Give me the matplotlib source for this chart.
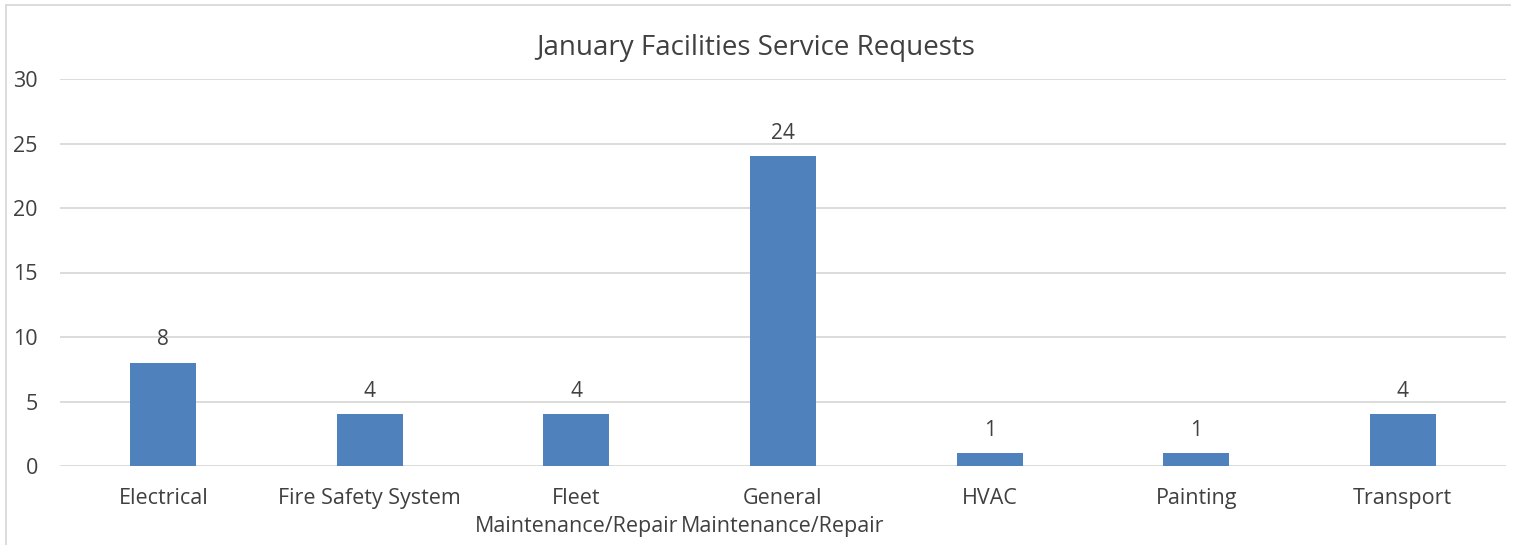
import numpy as np
import matplotlib.pyplot as plt
from matplotlib.lines import Line2D

categories = ["Electrical", "Fire Safety System", "Fleet\nMaintenance/Repair",
              "General\nMaintenance/Repair", "HVAC", "Painting", "Transport"]
requests = [8, 4, 4, 24, 1, 1, 4]
yticks = [0, 5, 10, 15, 20, 25, 30]

plt.rcParams['font.family'] = ['Open Sans', 'DejaVu Sans']
txt = '#404040'

fig = plt.figure(figsize=(15.2, 5.45), dpi=100)
ax = fig.add_axes([60/1520, 1-466/545, (1506-60)/1520, (466-79)/545])

x = np.arange(len(categories))
bars = ax.bar(x, requests, width=0.32, color='#4F81BD', zorder=3)
for xi, v in zip(x, requests):
    ax.annotate(str(v), (xi, v), xytext=(0, 9), textcoords='offset points',
                ha='center', va='bottom', fontsize=15, color=txt)

ax.set_xlim(-0.5, len(categories) - 0.5)
ax.set_ylim(0, 30)
ax.set_yticks(yticks)
ax.set_xticks(x)
ax.set_xticklabels(categories, fontsize=15.5, color=txt, linespacing=1.4)
ax.tick_params(axis='x', length=0, pad=16)
ax.tick_params(axis='y', length=0, pad=16, labelsize=15.5, labelcolor=txt)
for lab in ax.get_yticklabels():
    lab.set_horizontalalignment('right')
ax.grid(axis='y', color='#D9D9D9', linewidth=1.3, zorder=0)
for s in ax.spines.values():
    s.set_visible(False)

fig.text(756/1520, 1-48/545, "January Facilities Service Requests", ha='center', va='center',
         fontsize=20, color=txt)

# chart frame (left and top edges)
fig.add_artist(Line2D([6/1520, 6/1520], [0, 1-5/545], color='#D9D9D9', lw=1.3))
fig.add_artist(Line2D([6/1520, 1510/1520], [1-5/545, 1-5/545], color='#D9D9D9', lw=1.3))

fig.savefig('out.png', dpi=100, facecolor='white')
